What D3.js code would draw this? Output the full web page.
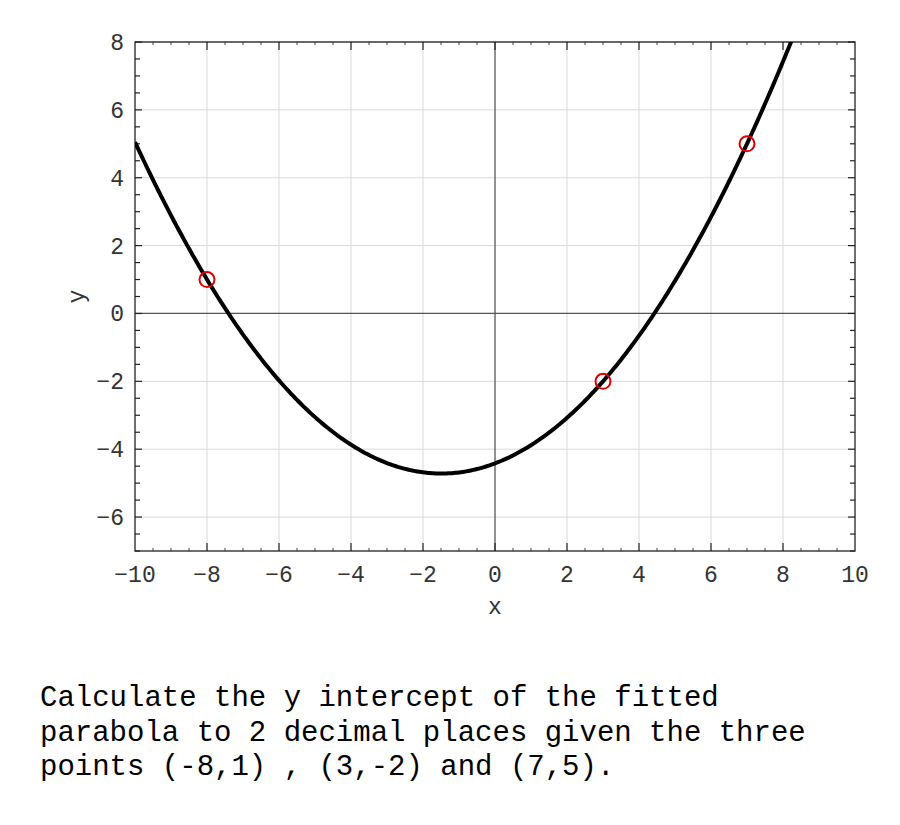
<!DOCTYPE html>
<html>
<head>
<meta charset="utf-8">
<script src="https://cdn.jsdelivr.net/npm/d3@7"></script>
<style>
  body { margin: 0; background: #fff; overflow: hidden; }
  svg { display: block; }
  .tick-label { font-family: "Liberation Mono", monospace; font-size: 23px; fill: #333; }
  .question { font-family: "Liberation Mono", "Courier New", monospace; font-size: 29px; fill: #000; }
</style>
</head>
<body>
<script>
// data points given in the question
const pointsX = [-8, 3, 7];
const pointsY = [1, -2, 5];

// tick labels
const xTicks = [-10, -8, -6, -4, -2, 0, 2, 4, 6, 8, 10];
const yTicks = [-6, -4, -2, 0, 2, 4, 6, 8];

const questionLines = [
  'Calculate the y intercept of the fitted',
  'parabola to 2 decimal places given the three',
  'points (-8,1) , (3,-2) and (7,5).'
];

const width = 900;
const height = 825;
const margin = { top: 42, right: 45, bottom: 274, left: 135 };
const innerWidth = width - margin.left - margin.right;
const innerHeight = height - margin.top - margin.bottom;

const svg = d3.select('body')
  .append('svg')
  .attr('width', width)
  .attr('height', height);

const chart = svg.append('g')
  .attr('transform', `translate(${margin.left}, ${margin.top})`);

const xScale = d3.scaleLinear().domain([-10, 10]).range([0, innerWidth]);
const yScale = d3.scaleLinear().domain([-7, 8]).range([innerHeight, 0]);

// parabola through the three points (Lagrange form)
function parabola(x) {
  let s = 0;
  for (let i = 0; i < 3; i++) {
    let term = pointsY[i];
    for (let j = 0; j < 3; j++) {
      if (j !== i) term *= (x - pointsX[j]) / (pointsX[i] - pointsX[j]);
    }
    s += term;
  }
  return s;
}

// grid lines
chart.append('g')
  .selectAll('line')
  .data(xTicks.slice(1, -1))
  .enter()
  .append('line')
  .attr('x1', d => xScale(d)).attr('x2', d => xScale(d))
  .attr('y1', 0).attr('y2', innerHeight)
  .attr('stroke', '#d9d9d9').attr('stroke-width', 1);

chart.append('g')
  .selectAll('line')
  .data(yTicks)
  .enter()
  .append('line')
  .attr('x1', 0).attr('x2', innerWidth)
  .attr('y1', d => yScale(d)).attr('y2', d => yScale(d))
  .attr('stroke', '#d9d9d9').attr('stroke-width', 1);

// zero axes
chart.append('line')
  .attr('x1', xScale(0)).attr('x2', xScale(0))
  .attr('y1', 0).attr('y2', innerHeight)
  .attr('stroke', '#555').attr('stroke-width', 1.2);
chart.append('line')
  .attr('x1', 0).attr('x2', innerWidth)
  .attr('y1', yScale(0)).attr('y2', yScale(0))
  .attr('stroke', '#555').attr('stroke-width', 1.2);

// minor / major ticks on all four sides, pointing inward
const xMinor = d3.range(-10, 10.01, 0.5).filter(v => v % 2 !== 0);
const xMajor = xTicks.slice(1, -1);
const yMinor = d3.range(-7, 8.01, 0.5).filter(v => v % 2 !== 0);
const yMajor = yTicks;

function xTickMarks(vals, len, color) {
  chart.append('g').selectAll('line').data(vals).enter().append('line')
    .attr('x1', d => xScale(d)).attr('x2', d => xScale(d))
    .attr('y1', innerHeight).attr('y2', innerHeight - len)
    .attr('stroke', color).attr('stroke-width', 1.2);
  chart.append('g').selectAll('line').data(vals).enter().append('line')
    .attr('x1', d => xScale(d)).attr('x2', d => xScale(d))
    .attr('y1', 0).attr('y2', len)
    .attr('stroke', color).attr('stroke-width', 1.2);
}
function yTickMarks(vals, len, color) {
  chart.append('g').selectAll('line').data(vals).enter().append('line')
    .attr('y1', d => yScale(d)).attr('y2', d => yScale(d))
    .attr('x1', 0).attr('x2', len)
    .attr('stroke', color).attr('stroke-width', 1.2);
  chart.append('g').selectAll('line').data(vals).enter().append('line')
    .attr('y1', d => yScale(d)).attr('y2', d => yScale(d))
    .attr('x1', innerWidth).attr('x2', innerWidth - len)
    .attr('stroke', color).attr('stroke-width', 1.2);
}
xTickMarks(xMinor, 3, '#666');
xTickMarks(xMajor, 8, '#222');
yTickMarks(yMinor, 5, '#222');
yTickMarks(yMajor, 7, '#222');

// frame
chart.append('rect')
  .attr('x', 0).attr('y', 0)
  .attr('width', innerWidth).attr('height', innerHeight)
  .attr('fill', 'none').attr('stroke', '#222').attr('stroke-width', 1.3);

// tick labels
chart.append('g').selectAll('text').data(xTicks).enter().append('text')
  .attr('class', 'tick-label')
  .attr('x', d => xScale(d))
  .attr('y', innerHeight + 31)
  .attr('text-anchor', 'middle')
  .text(d => d < 0 ? '\u2212' + Math.abs(d) : d);

chart.append('g').selectAll('text').data(yTicks).enter().append('text')
  .attr('class', 'tick-label')
  .attr('x', -11)
  .attr('y', d => yScale(d) + 8)
  .attr('text-anchor', 'end')
  .text(d => d < 0 ? '\u2212' + Math.abs(d) : d);

// axis titles
chart.append('text')
  .attr('class', 'tick-label')
  .attr('x', innerWidth / 2)
  .attr('y', innerHeight + 63)
  .attr('text-anchor', 'middle')
  .text('x');

chart.append('text')
  .attr('class', 'tick-label')
  .attr('transform', `translate(${-51}, ${innerHeight / 2}) rotate(-90)`)
  .attr('text-anchor', 'middle')
  .text('y');

// fitted curve
chart.append('clipPath').attr('id', 'clip')
  .append('rect').attr('width', innerWidth).attr('height', innerHeight);

const curveX = d3.range(-10, 10.001, 0.05);
chart.append('path')
  .datum(curveX)
  .attr('clip-path', 'url(#clip)')
  .attr('fill', 'none')
  .attr('stroke', '#000')
  .attr('stroke-width', 4)
  .attr('d', d3.line().x(d => xScale(d)).y(d => yScale(parabola(d))));

// given points
chart.selectAll('.pt')
  .data(pointsX)
  .enter()
  .append('circle')
  .attr('class', 'pt')
  .attr('cx', d => xScale(d))
  .attr('cy', (d, i) => yScale(pointsY[i]))
  .attr('r', 7.5)
  .attr('fill', 'none')
  .attr('stroke', '#e00000')
  .attr('stroke-width', 2);

// question text
svg.append('g').selectAll('text').data(questionLines).enter().append('text')
  .attr('class', 'question')
  .attr('x', 40)
  .attr('y', (d, i) => 706 + i * 34.5)
  .style('white-space', 'pre')
  .text(d => d);
</script>
</body>
</html>
